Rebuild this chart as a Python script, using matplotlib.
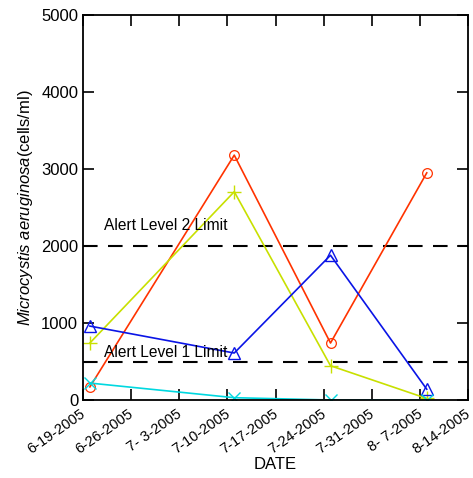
import matplotlib.pyplot as plt
import matplotlib.transforms as mtransforms
import numpy as np
import datetime as dt

plt.rcParams['font.family'] = ['Liberation Sans', 'DejaVu Sans']
plt.rcParams['mathtext.fontset'] = 'custom'
plt.rcParams['mathtext.it'] = 'Liberation Sans:italic'
plt.rcParams['mathtext.rm'] = 'Liberation Sans'

# sampling dates and cell counts
dates = [dt.date(2005, 6, 20), dt.date(2005, 7, 11), dt.date(2005, 7, 25), dt.date(2005, 8, 8)]
site_red = [170, 3180, 740, 2950]
site_yellow = [740, 2705, 445, 20]
site_blue = [960, 610, 1880, 140]
site_cyan = [220, 30, 0, 0]

alert_levels = [2000, 500]
alert_labels = ['Alert Level 2 Limit', 'Alert Level 1 Limit']
label_y = [2270, 620]

tick_dates = [dt.date(2005, 6, 19) + dt.timedelta(days=7 * i) for i in range(9)]
tick_labels = ['6-19-2005', '6-26-2005', '7- 3-2005', '7-10-2005', '7-17-2005',
               '7-24-2005', '7-31-2005', '8- 7-2005', '8-14-2005']

fig = plt.figure(figsize=(4.73, 4.78), dpi=100)
ax = fig.add_axes([83 / 473, 78 / 478, 385 / 473, 385 / 478])

ax.plot(dates, site_red, color='#ff3300', lw=1.2, marker='o', ms=7, mfc='none', mew=0.9)
ax.plot(dates, site_yellow, color='#c8e000', lw=1.2, marker='+', ms=10, mew=1.0)
ax.plot(dates, site_blue, color='#0a14e6', lw=1.2, marker='^', ms=8, mfc='none', mew=1.0)
ax.plot(dates, site_cyan, color='#00d8e0', lw=1.2, marker='x', ms=9, mew=1.0)

for lvl, lab, ty in zip(alert_levels, alert_labels, label_y):
    ax.axhline(lvl, color='black', lw=1.5, ls=(0, (7, 5)), zorder=1)
    ax.text(dt.date(2005, 6, 22), ty, lab, fontsize=11.2, va='center', ha='left')

ax.set_xlim(tick_dates[0], tick_dates[-1])
ax.set_ylim(0, 5000)
ax.set_xticks(tick_dates)
ax.set_xticklabels(tick_labels, rotation=35, ha='right', rotation_mode='anchor', fontsize=10.5)
ax.set_yticks(np.arange(0, 5001, 1000))
ax.tick_params(axis='y', labelsize=12)
ax.tick_params(direction='in', length=8, width=1.2, top=True, right=True)
ax.tick_params(axis='x', pad=5)

# nudge the date labels a little left so the last one stays inside
shift = mtransforms.ScaledTranslation(-3 / 100, 0, fig.dpi_scale_trans)
for t in ax.get_xticklabels():
    t.set_transform(t.get_transform() + shift)

for sp in ax.spines.values():
    sp.set_linewidth(1.3)

ax.set_xlabel('DATE', fontsize=12, labelpad=0)
ax.set_ylabel(r'$\mathit{Microcystis\ aeruginosa}$(cells/ml)', fontsize=12, labelpad=4)

plt.savefig('out.png', dpi=100)
